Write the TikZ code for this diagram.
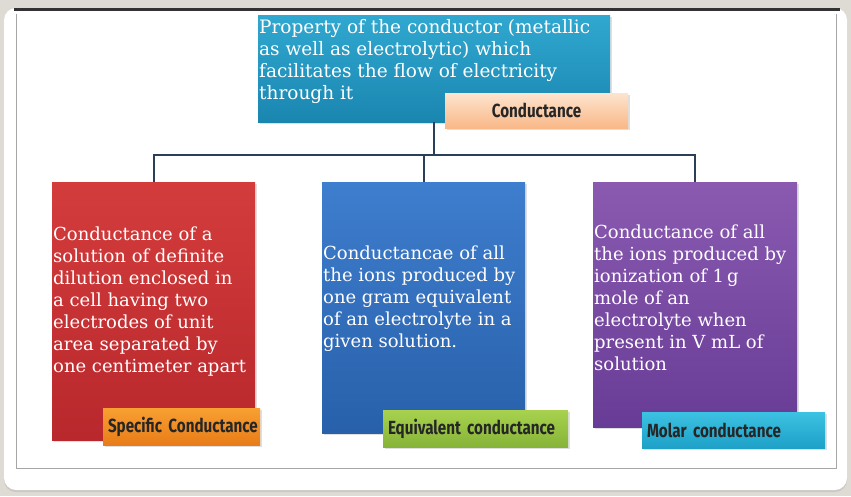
\documentclass[tikz,border=0pt]{standalone}
\usepackage{fontspec}
\setmainfont{DejaVu Serif}
\newfontfamily\tagfont{Fira Sans}[FakeStretch=0.8]
\usetikzlibrary{
    shadows,
    positioning
}
\definecolor{bggray}{HTML}{DEDAD4}
\definecolor{linknavy}{HTML}{2B3F5A}
\tikzset{box/.style={rectangle, inner sep=0pt, draw=none, drop shadow={shadow xshift=2pt, shadow yshift=-2pt, opacity=0.25}}}
\tikzset{tagbox/.style={box, font=\tagfont\bfseries\fontsize{19}{22}\selectfont, text=black!85}}
\tikzset{lefttag/.style={tagbox, align=left, text width=#1, inner xsep=5pt}}
\tikzset{boxtext/.style={anchor=west, inner sep=0pt, align=left, text=white, font=\fontsize{18}{22}\selectfont}}
\tikzset{link/.style={draw=linknavy, line width=2pt}}

\begin{document}
\begin{tikzpicture}[x=1pt, y=-1pt]
    % page and frame
    \fill[bggray] (0,0) rectangle (851,496);
    \useasboundingbox (0,0) rectangle (851,496);
    \fill[white, rounded corners=12pt, drop shadow={shadow xshift=0pt, shadow yshift=-2pt, opacity=0.2}] (4,8) rectangle (847,490);
    \draw[black!35, line width=1pt] (16,14) -- (16,468) -- (836,468) -- (836,14);
    \draw[black!80, line width=3pt] (14,9) -- (840,9);

    % boxes
    \node[box, minimum width=352pt, minimum height=107pt, top color={rgb,255:red,48;green,168;blue,208}, bottom color={rgb,255:red,26;green,134;blue,176}] (prop) at (434,68.5) {};
    \node[box, minimum width=203pt, minimum height=258pt, top color={rgb,255:red,212;green,60;blue,60}, bottom color={rgb,255:red,184;green,40;blue,44}] (spec) at (153.5,311) {};
    \node[box, minimum width=203pt, minimum height=251pt, top color={rgb,255:red,62;green,126;blue,206}, bottom color={rgb,255:red,40;green,96;blue,170}] (equiv) at (423.5,307.5) {};
    \node[box, minimum width=204pt, minimum height=245pt, top color={rgb,255:red,138;green,90;blue,176}, bottom color={rgb,255:red,104;green,60;blue,150}] (molar) at (695,304.5) {};

    % texts
    \node[boxtext, font=\fontsize{18.5}{22.3}\selectfont] (proptext) at (259,61.5) {Property of the conductor (metallic\\as well as electrolytic) which\\facilitates the flow of electricity\\through it};
    \node[boxtext] (spectext) at (53,302) {Conductance of a\\solution of definite\\dilution enclosed in\\a cell having two\\electrodes of unit\\area separated by\\one centimeter apart};
    \node[boxtext] (equivtext) at (323,299) {Conductancae of all\\the ions produced by\\one gram equivalent\\of an electrolyte in a\\given solution.};
    \node[boxtext] (molartext) at (594,297.5) {Conductance of all\\the ions produced by\\ionization of 1\,g\\mole of an\\electrolyte when\\present in V mL of\\solution};

    % connectors
    \coordinate (bar) at (434,155);
    \draw[link] (prop.south) -- (bar);
    \draw[link] (bar) -| (spec.north);
    \draw[link] (bar) -| (equiv.north);
    \draw[link] (bar) -| (molar.north);

    % tags
    \node[tagbox, minimum width=183pt, minimum height=35pt, top color={rgb,255:red,253;green,228;blue,206}, bottom color={rgb,255:red,249;green,184;blue,136}] (cond) at (536.5,110.5) {Conductance};
    \node[lefttag=147pt, minimum height=37pt, top color={rgb,255:red,248;green,160;blue,50}, bottom color={rgb,255:red,232;green,124;blue,24}] (spectag) at (181.5,426.5) {\mbox{Specific\ Conductance}};
    \node[lefttag=175pt, minimum height=37pt, top color={rgb,255:red,168;green,210;blue,78}, bottom color={rgb,255:red,134;green,180;blue,56}] (equivtag) at (475.5,428.5) {\mbox{Equivalent\ conductance}};
    \node[lefttag=173pt, minimum height=36pt, top color={rgb,255:red,60;green,194;blue,226}, bottom color={rgb,255:red,30;green,160;blue,200}] (molartag) at (733.5,430) {\mbox{Molar\ conductance}};
\end{tikzpicture}
\end{document}
